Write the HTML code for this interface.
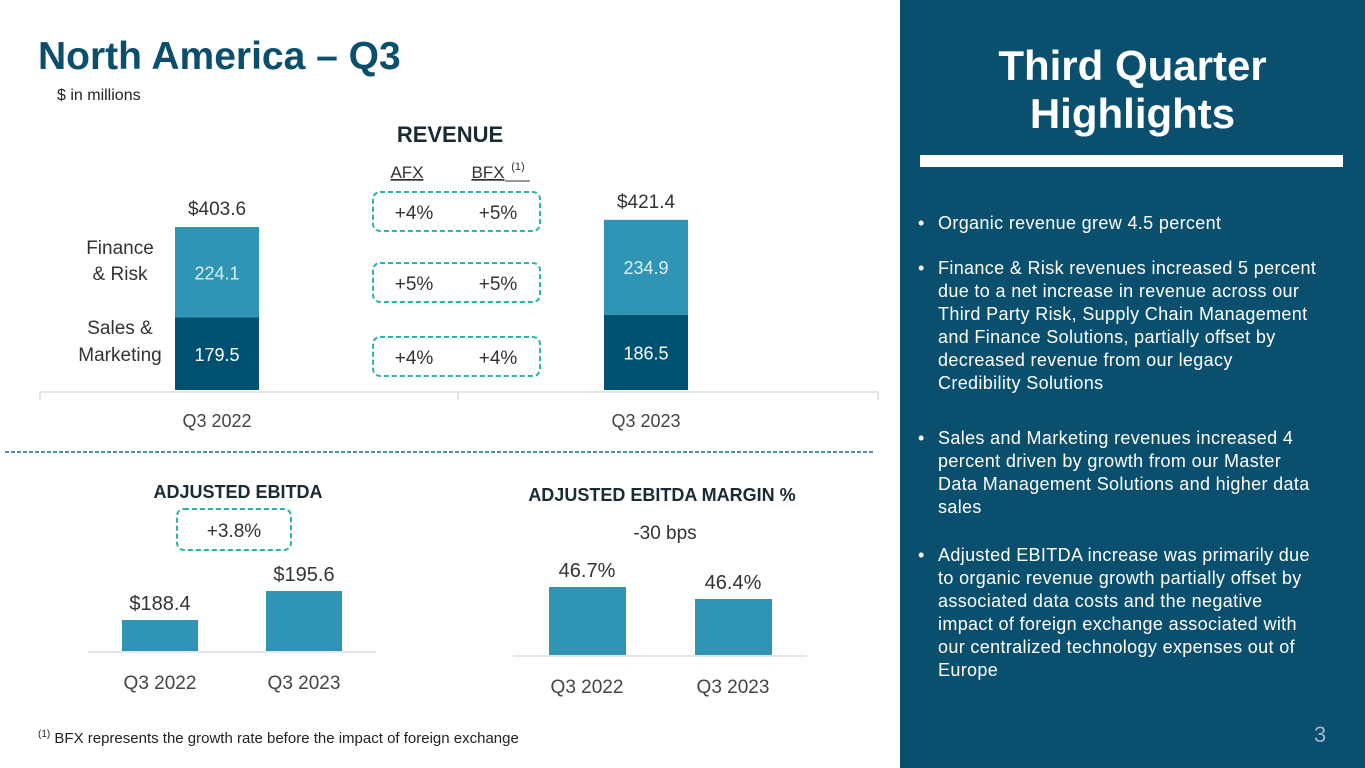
<!DOCTYPE html>
<html><head><meta charset="utf-8"><style>
body{margin:0;width:1365px;height:768px;overflow:hidden;background:#fff;font-family:"Liberation Sans",sans-serif;position:relative}
.abs{position:absolute;white-space:nowrap}
#panel{position:absolute;left:900px;top:0;width:465px;height:768px;background:#0a4f6e}
.bl{position:absolute;left:38px;color:#fff;font-size:18px;letter-spacing:0.35px;line-height:23px;white-space:nowrap}
.bl:before{content:"•";position:absolute;left:-20px}
</style></head><body>
<div class="abs" style="left:38px;top:35px;font-size:39px;font-weight:bold;color:#0b4f6c">North America – Q3</div>
<div class="abs" style="left:57px;top:87px;font-size:16px;color:#222">$ in millions</div>
<svg id="chart" width="900" height="768" style="position:absolute;left:0;top:0"></svg>
<div class="abs" style="left:38px;top:729px;font-size:15px;color:#222"><sup style="font-size:10px">(1)</sup> BFX represents the growth rate before the impact of foreign exchange</div>
<div id="panel">
<div class="abs" style="left:0;width:465px;text-align:center;top:42px;font-size:42px;font-weight:bold;color:#fff;line-height:48px;white-space:normal">Third Quarter<br>Highlights</div>
<div class="abs" style="left:20px;top:155px;width:423px;height:12px;background:#fff"></div>
<div class="bl" style="top:212px">Organic revenue grew 4.5 percent</div>
<div class="bl" style="top:257px">Finance &amp; Risk revenues increased 5 percent<br>due to a net increase in revenue across our<br>Third Party Risk, Supply Chain Management<br>and Finance Solutions, partially offset by<br>decreased revenue from our legacy<br>Credibility Solutions</div>
<div class="bl" style="top:427px">Sales and Marketing revenues increased 4<br>percent driven by growth from our Master<br>Data Management Solutions and higher data<br>sales</div>
<div class="bl" style="top:544px">Adjusted EBITDA increase was primarily due<br>to organic revenue growth partially offset by<br>associated data costs and the negative<br>impact of foreign exchange associated with<br>our centralized technology expenses out of<br>Europe</div>
<div class="abs" style="left:414px;top:722px;font-size:22px;color:#9fb7c4">3</div>
</div>
<script>
const revCats=["Q3 2022","Q3 2023"];
const salesMkt=[179.5,186.5];
const finRisk=[224.1,234.9];
const revTotals=["$403.6","$421.4"];
const ebitdaCats=["Q3 2022","Q3 2023"];
const ebitdaVals=[188.4,195.6];
const ebitdaLabels=["$188.4","$195.6"];
const marginCats=["Q3 2022","Q3 2023"];
const marginVals=[46.7,46.4];
const marginLabels=["46.7%","46.4%"];
const growthRows=[["+4%","+5%"],["+5%","+5%"],["+4%","+4%"]];

const svg=document.getElementById('chart');
const NS="http://www.w3.org/2000/svg";
function el(t,a,txt){const e=document.createElementNS(NS,t);for(const k in a)e.setAttribute(k,a[k]);if(txt!==undefined)e.textContent=txt;svg.appendChild(e);return e;}
const DARK="#005072",LIGHT="#3095b4",F='"Liberation Sans",sans-serif';

// Revenue
const rBase=390,rScale=163/403.6;
const rY=v=>rBase-v*rScale;
const rX=i=>175+i*429;
let t=el('text',{x:450,y:142,'text-anchor':'middle','font-size':22,'font-weight':'bold',fill:'#1a2b33','font-family':F},'REVENUE');

t=el('text',{x:407,y:178,'text-anchor':'middle','font-size':17,fill:'#333','text-decoration':'underline','font-family':F},'AFX');

t=el('text',{x:488,y:178,'text-anchor':'middle','font-size':17,fill:'#333','text-decoration':'underline','font-family':F},'BFX');

t=el('text',{x:518,y:170,'text-anchor':'middle','font-size':11,fill:'#333','font-family':F},'(1)');

el('line',{x1:505,y1:181,x2:530,y2:181,stroke:'#333','stroke-width':1});
t=el('line',{x1:40,y1:392,x2:878,y2:392,stroke:'#e0e6ea','stroke-width':2});

el('line',{x1:458,y1:392,x2:458,y2:400,stroke:'#e0e6ea','stroke-width':2});
el('line',{x1:40,y1:392,x2:40,y2:400,stroke:'#e0e6ea','stroke-width':2});
el('line',{x1:878,y1:392,x2:878,y2:400,stroke:'#e0e6ea','stroke-width':2});
revCats.forEach((c,i)=>{
 const x=rX(i),w=84,ys=rY(salesMkt[i]),yt=rY(salesMkt[i]+finRisk[i]);
 let r=el('rect',{x:x,y:ys,width:w,height:rBase-ys,fill:DARK});
 
 r=el('rect',{x:x,y:yt,width:w,height:ys-yt,fill:LIGHT});
 
 let l=el('text',{x:x+w/2,y:(ys+rBase)/2+7,'text-anchor':'middle','font-size':18,fill:'#fff','font-family':F},salesMkt[i].toFixed(1));
 
 l=el('text',{x:x+w/2,y:(ys+yt)/2+7,'text-anchor':'middle','font-size':18,fill:'#dbeef4','font-family':F},finRisk[i].toFixed(1));
 
 l=el('text',{x:x+w/2,y:yt-12,'text-anchor':'middle','font-size':19,fill:'#333','font-family':F},revTotals[i]);
 
 l=el('text',{x:x+w/2,y:427,'text-anchor':'middle','font-size':18,fill:'#444','font-family':F},c);
 
});
[["Finance",254],["& Risk",280],["Sales &",334],["Marketing",361]].forEach(([s,y],k)=>{
 const l=el('text',{x:120,y:y,'text-anchor':'middle','font-size':19,fill:'#333','font-family':F},s);
 
});
const boxY=[192,263,337];
growthRows.forEach((g,k)=>{
 const b=el('rect',{x:373,y:boxY[k],width:167,height:39,rx:7,fill:'none',stroke:'#2fb3a5','stroke-width':2,'stroke-dasharray':'5 3'});
 
 let l=el('text',{x:414,y:boxY[k]+27,'text-anchor':'middle','font-size':19,fill:'#333','font-family':F},g[0]);
 
 l=el('text',{x:498,y:boxY[k]+27,'text-anchor':'middle','font-size':19,fill:'#333','font-family':F},g[1]);
 
});
t=el('line',{x1:5,y1:452,x2:875,y2:452,stroke:'#1f6f8a','stroke-width':1.5,'stroke-dasharray':'4 2'});


// EBITDA
const eBase=651,eMin=180.7,eScale=31/(188.4-180.7);
const eY=v=>eBase-(v-eMin)*eScale;
t=el('text',{x:238,y:498,'text-anchor':'middle','font-size':18,'font-weight':'bold',fill:'#1a2b33','font-family':F},'ADJUSTED EBITDA');

t=el('rect',{x:177,y:509,width:114,height:41,rx:7,fill:'none',stroke:'#2fb3a5','stroke-width':2,'stroke-dasharray':'5 3'});

t=el('text',{x:234,y:537,'text-anchor':'middle','font-size':19,fill:'#333','font-family':F},'+3.8%');

el('line',{x1:88,y1:652,x2:376,y2:652,stroke:'#e0e6ea','stroke-width':2});
ebitdaCats.forEach((c,i)=>{
 const x=122+i*144,y=eY(ebitdaVals[i]);
 let r=el('rect',{x:x,y:y,width:76,height:eBase-y,fill:LIGHT});
 
 let l=el('text',{x:x+38,y:y-10,'text-anchor':'middle','font-size':20,fill:'#333','font-family':F},ebitdaLabels[i]);
 
 l=el('text',{x:x+38,y:689,'text-anchor':'middle','font-size':19,fill:'#444','font-family':F},c);
 
});

// Margin
const mBase=655,mMin=45.0,mScale=40;
const mY=v=>mBase-(v-mMin)*mScale;
t=el('text',{x:662,y:501,'text-anchor':'middle','font-size':18,'font-weight':'bold',fill:'#1a2b33','font-family':F},'ADJUSTED EBITDA MARGIN %');

t=el('text',{x:665,y:539,'text-anchor':'middle','font-size':19,fill:'#333','font-family':F},'-30 bps');

el('line',{x1:513,y1:656,x2:807,y2:656,stroke:'#e0e6ea','stroke-width':2});
marginCats.forEach((c,i)=>{
 const x=549+i*146,y=mY(marginVals[i]);
 let r=el('rect',{x:x,y:y,width:77,height:mBase-y,fill:LIGHT});
 
 let l=el('text',{x:x+38,y:y-10,'text-anchor':'middle','font-size':20,fill:'#333','font-family':F},marginLabels[i]);
 
 l=el('text',{x:x+38,y:693,'text-anchor':'middle','font-size':19,fill:'#444','font-family':F},c);
 
});
</script>
</body></html>
